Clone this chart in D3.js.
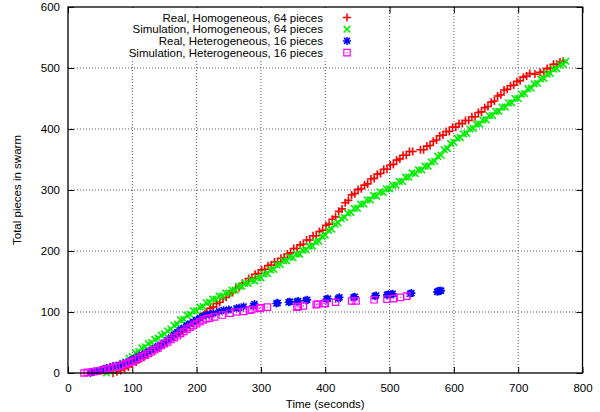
<!DOCTYPE html>
<html>
<head>
<meta charset="utf-8">
<script src="https://cdn.jsdelivr.net/npm/d3@7"></script>
<style>
  html, body { margin: 0; padding: 0; background: #fff; }
  svg { display: block; }
  text { font-family: "Liberation Sans", Arial, Helvetica, sans-serif; fill: #000; }
</style>
</head>
<body>
<svg id="chart" width="600" height="412"></svg>
<script>
// Swarm growth over time: [time in seconds, total pieces in swarm]
const realHomogeneous = [
  [70,0],[76,2],[82,4],[88,7],[94,10],[100,15],[106,18],[112,23],[118,26],[124,31],[130,34],[136,39],[142,42],[148,47],[154,50],[160,56],[166,59],[172,65],[178,68],[184,74],[190,77],[196,83],[202,87],[208,93],[213,97],[216,100],[221,106],[226,108],[231,114],[236,116],[241,122],[246,124],[251,130],[256,132],[261,139],[266,140],[271,147],[276,148],[281,155],[286,156],[291,162],[296,163],[301,169],[306,170],[311,176],[316,177],[321,182],[326,182],[331,188],[336,189],[341,195],[346,197],[351,204],[356,204],[361,210],[366,211],[371,218],[376,218],[381,225],[386,225],[391,232],[396,234],[401,242],[406,244],[411,252],[416,256],[421,265],[426,269],[431,279],[436,283],[441,292],[446,294],[451,301],[456,302],[461,308],[466,310],[471,318],[476,319],[481,326],[486,327],[491,334],[496,334],[501,341],[506,342],[511,349],[516,351],[521,357],[526,357],[531,363],[536,363],
  [548,366],[553,366],[558,372],[563,373],[568,380],[573,382],[578,389],[583,390],[588,396],[593,396],[598,403],[603,403],[608,409],[613,409],[618,414],[623,414],[628,420],[633,420],[638,427],[643,428],[648,435],[653,437],[658,444],[663,446],[668,454],[673,456],[678,464],[683,465],[688,471],[693,472],[698,478],[703,479],[708,485],[713,487],[718,491],[726,490],[734,493],[740,494],[745,499],[750,500],[755,506],[760,506],[765,510],[770,511]
];
const simHomogeneous = [
  [60,0],[65,3],[70,5],[75,9],[80,11],[85,16],[90,18],[95,24],[100,27],[105,33],[110,35],[115,41],[120,43],[125,48],[130,50],[135,55],[140,57],[145,62],[150,64],[155,69],[160,72],[165,78],[170,80],[175,87],[180,88],[185,95],[190,96],[195,102],[200,102],[205,108],[210,109],[215,115],[220,116],[225,121],[230,121],[235,126],[240,126],[245,131],[250,131],[255,136],[260,136],[265,142],[270,142],[275,147],[280,147],[285,152],[290,151],[295,156],[300,156],[305,162],[310,163],[315,169],[320,170],[325,177],[330,178],[335,184],[340,184],[345,190],[350,189],[355,195],[360,195],[365,201],[370,202],[375,208],[380,208],[385,215],[390,216],[395,224],[400,226],[405,234],[410,236],[415,244],[420,246],[425,253],[430,255],[435,262],[440,263],[445,270],[450,270],[455,277],[460,277],[465,284],[470,284],[475,291],[480,290],[485,297],[490,296],[495,302],[500,302],[505,308],[510,308],[515,314],[520,314],[525,321],[530,321],[535,328],[540,327],[545,333],[550,333],[555,339],[560,339],[565,346],[570,347],[575,355],[580,357],[585,366],[590,368],[595,376],[600,378],[605,385],[610,386],[615,392],[620,393],[625,400],[630,401],[635,408],[640,408],[645,415],[650,415],[655,422],[660,422],[665,429],[670,429],[675,436],[680,436],[685,443],[690,443],[695,450],[700,450],[705,457],[710,458],[715,466],[720,467],[725,474],[730,475],[735,482],[740,483],[745,490],[750,491],[755,498],[760,499],[765,505],[770,506],[774,511]
];
const realHeterogeneous = [
  [35,0],[40,2],[45,3],[50,4],[55,6],[60,8],[65,9],[70,11],[75,12],[80,13],[85,15],[90,17],[95,19],[100,22],[105,24],[110,27],[115,30],[120,32],[125,35],[130,38],[135,41],[140,44],[145,46],[150,50],[155,54],[160,58],[165,63],[170,67],[175,71],[180,74],[185,78],[190,81],[195,84],[200,87],[205,90],[210,93],[215,95],[220,96],[226,98],[235,101],[242,103],[250,104],[262,106],[266,107],[273,109],[288,110],[290,113],[324,114],[326,115],[343,116],[345,117],[356,117],[358,118],[370,119],[372,120],[402,121],[404,122],[420,122],[422,124],[444,124],[446,125],[477,126],[479,127],[496,128],[498,129],[503,129],[505,130],[532,130],[534,131],[574,133],[576,134],[578,135],[580,135]
];
const simHeterogeneous = [
  [25,0],[30,1],[38,2],[45,3],[52,4],[58,6],[64,7],[70,9],[75,10],[80,11],[85,13],[90,15],[95,17],[100,19],[105,21],[110,24],[115,27],[120,29],[125,32],[130,35],[135,38],[140,41],[145,45],[150,48],[155,51],[160,55],[165,58],[170,61],[175,65],[180,68],[185,72],[190,75],[195,78],[200,81],[205,84],[210,87],[215,89],[220,90],[228,92],[240,95],[252,98],[262,100],[273,101],[283,103],[286,104],[298,106],[300,107],[310,108],[356,108],[358,109],[366,110],[386,112],[388,113],[398,114],[400,114],[416,116],[441,118],[448,118],[476,120],[496,121],[506,122],[517,124],[527,126]
];

const seriesNames = [
  "Real, Homogeneous, 64 pieces",
  "Simulation, Homogeneous, 64 pieces",
  "Real, Heterogeneous, 16 pieces",
  "Simulation, Heterogeneous, 16 pieces"
];
const seriesColors = ["#ff0000", "#00ee00", "#0000ff", "#ff00ff"];
const xTicks = [0, 100, 200, 300, 400, 500, 600, 700, 800];
const yTicks = [0, 100, 200, 300, 400, 500, 600];

const series = [
  { name: seriesNames[0], data: realHomogeneous, color: seriesColors[0], shape: "plus" },
  { name: seriesNames[1], data: simHomogeneous, color: seriesColors[1], shape: "cross" },
  { name: seriesNames[2], data: realHeterogeneous, color: seriesColors[2], shape: "star" },
  { name: seriesNames[3], data: simHeterogeneous, color: seriesColors[3], shape: "box" }
];

const svg = d3.select("#chart");
const plotLeft = 68, plotRight = 582.5, plotTop = 7, plotBottom = 373;

const x = d3.scaleLinear().domain([0, 800]).range([plotLeft, plotRight]);
const y = d3.scaleLinear().domain([0, 600]).range([plotBottom, plotTop]);

// Dotted grid
const grid = svg.append("g").attr("stroke", "#444").attr("stroke-width", 0.9)
  .attr("stroke-dasharray", "1,2").attr("fill", "none");
xTicks.slice(1, -1).forEach(t => {
  grid.append("line").attr("x1", x(t)).attr("x2", x(t)).attr("y1", plotTop).attr("y2", plotBottom);
});
yTicks.slice(1, -1).forEach(t => {
  grid.append("line").attr("x1", plotLeft).attr("x2", plotRight).attr("y1", y(t)).attr("y2", y(t));
});

// Axes with inward ticks, mirrored on top and right
const tickLen = 6;
const xAxisBottom = d3.axisBottom(x).tickValues(xTicks).tickSizeInner(-tickLen).tickSizeOuter(0).tickPadding(11);
const xAxisTop = d3.axisTop(x).tickValues(xTicks).tickSizeInner(-tickLen).tickSizeOuter(0).tickFormat("");
const yAxisLeft = d3.axisLeft(y).tickValues(yTicks).tickSizeInner(-tickLen).tickSizeOuter(0).tickPadding(8);
const yAxisRight = d3.axisRight(y).tickValues(yTicks).tickSizeInner(-tickLen).tickSizeOuter(0).tickFormat("");

function styleAxis(g) {
  g.select(".domain").remove();
  g.selectAll(".tick line").attr("stroke", "#000").attr("stroke-width", 1);
  g.selectAll(".tick text").attr("font-size", "11.5px").attr("fill", "#000")
    .attr("font-family", "Liberation Sans, Arial, sans-serif");
}
svg.append("g").attr("transform", `translate(0,${plotBottom})`).call(xAxisBottom).call(styleAxis);
svg.append("g").attr("transform", `translate(0,${plotTop})`).call(xAxisTop).call(styleAxis);
svg.append("g").attr("transform", `translate(${plotLeft},0)`).call(yAxisLeft).call(styleAxis);
svg.append("g").attr("transform", `translate(${plotRight},0)`).call(yAxisRight).call(styleAxis);

// Marker path generators
function markerPath(shape) {
  switch (shape) {
    case "plus": return "M-4,0H4M0,-4V4";
    case "cross": return "M-3.3,-3.3L3.3,3.3M-3.3,3.3L3.3,-3.3";
    case "star": return "M-4,0H4M0,-4V4M-3,-3L3,3M-3,3L3,-3";
    case "box": return "M-3.2,-3.2H3.2V3.2H-3.2Z";
  }
}

const plot = svg.append("g");
series.forEach(s => {
  const g = plot.append("g");
  g.selectAll("path").data(s.data).join("path")
    .attr("transform", d => `translate(${x(d[0])},${y(d[1])})`)
    .attr("d", markerPath(s.shape))
    .attr("fill", "none")
    .attr("stroke", s.color)
    .attr("stroke-width", s.shape === "box" ? 1.2 : 1.6);
  if (s.shape === "box") {
    g.selectAll("circle").data(s.data).join("circle")
      .attr("cx", d => x(d[0])).attr("cy", d => y(d[1])).attr("r", 0.7)
      .attr("fill", s.color);
  }
});

// Legend (opaque box covering the grid)
svg.append("rect").attr("x", 112).attr("y", plotTop + 0.6).attr("width", 248).attr("height", 51)
  .attr("fill", "#fff");
const legend = svg.append("g");
series.forEach((s, i) => {
  const cy = 17.5 + i * 11.7;
  legend.append("text").attr("x", 323).attr("y", cy + 4).attr("text-anchor", "end")
    .attr("font-size", "11.5px").text(s.name);
  legend.append("path").attr("transform", `translate(347,${cy})`).attr("d", markerPath(s.shape))
    .attr("fill", "none").attr("stroke", s.color).attr("stroke-width", s.shape === "box" ? 1.2 : 1.5);
  if (s.shape === "box") {
    legend.append("circle").attr("cx", 347).attr("cy", cy).attr("r", 0.7).attr("fill", s.color);
  }
});

// Plot border
svg.append("rect").attr("x", plotLeft).attr("y", plotTop)
  .attr("width", plotRight - plotLeft).attr("height", plotBottom - plotTop)
  .attr("fill", "none").attr("stroke", "#000").attr("stroke-width", 1.3);

// Axis titles
svg.append("text").attr("x", (plotLeft + plotRight) / 2).attr("y", 408).attr("text-anchor", "middle")
  .attr("font-size", "11.5px").text("Time (seconds)");
svg.append("text").attr("transform", `translate(21,${(plotTop + plotBottom) / 2}) rotate(-90)`)
  .attr("text-anchor", "middle").attr("font-size", "11.5px").text("Total pieces in swarm");
</script>
</body>
</html>
